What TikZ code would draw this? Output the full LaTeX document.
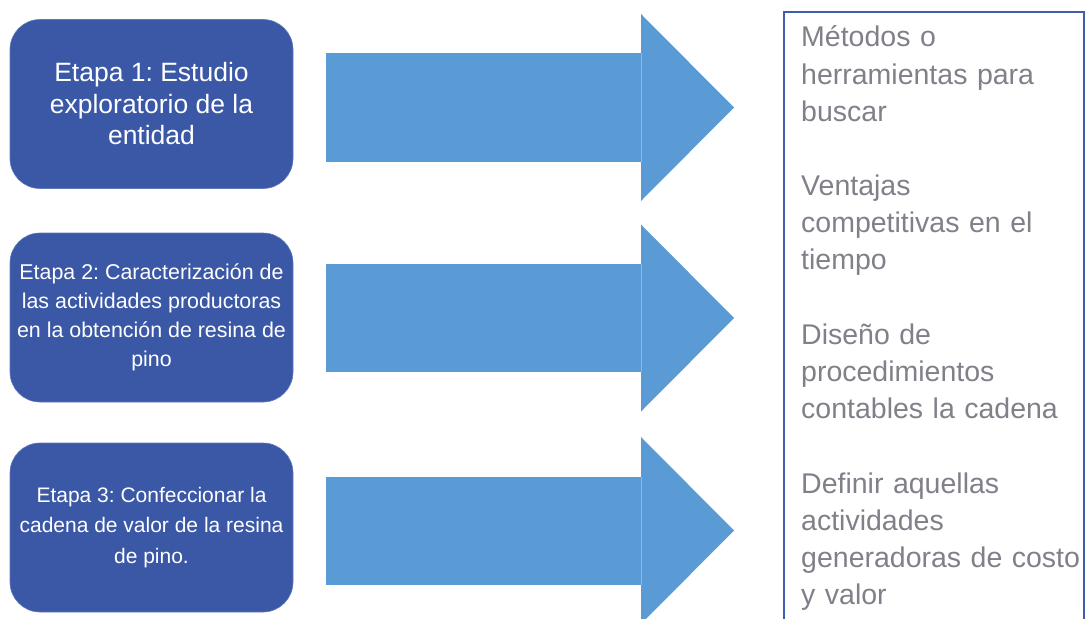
\documentclass[tikz,border=0pt]{standalone}
\usepackage{fontspec}
\setmainfont{Liberation Sans}
\frenchspacing
\definecolor{stagefill}{RGB}{59,88,166}
\definecolor{arrowfill}{RGB}{91,155,213}
\definecolor{framecol}{RGB}{63,93,174}
\definecolor{txtgray}{RGB}{128,128,138}
\tikzset{
  stagebox/.style={fill=stagefill, draw=stagefill!80!white, line width=0.6pt, rounded corners=30pt,
    minimum width=283pt, minimum height=169pt, inner sep=2pt, text=white, align=center},
  bigarrow/.style={fill=arrowfill, draw=none},
  headline/.style={draw=arrowfill!70!white, line width=0.8pt},
  goaltext/.style={anchor=base west, inner sep=0pt, text=txtgray, text width=300pt, align=left,
    font={\fontsize{28.5}{37.2}\selectfont}}
}
\begin{document}
\begin{tikzpicture}[x=1pt, y=-1pt]
\useasboundingbox (0,0) rectangle (1086,618);
\clip (0,0) rectangle (1086,618);
% stage boxes
\node[stagebox, font={\fontsize{26.5}{31.5}\selectfont}] (s1) at (151.5,104)
  {Etapa 1: Estudio\\exploratorio de la\\entidad};
\node[stagebox, font={\fontsize{21.4}{29}\selectfont}] (s2) at (151.5,317.5)
  {Etapa 2: Caracterización de\\las actividades productoras\\en la obtención de resina de\\pino};
\node[stagebox, font={\fontsize{21}{30.5}\selectfont}] (s3) at (151.5,527.5)
  {Etapa 3: Confeccionar la\\cadena de valor de la resina\\de pino.};
% arrows
\foreach \c [count=\i] in {107.5,318,530.5}{
  \fill[bigarrow] (326,\c-54) rectangle (641,\c+54);
  \fill[bigarrow] (641,\c-93.5) -- (734,\c) -- (641,\c+93.5) -- cycle;
  \draw[headline] (641,\c-54) -- (641,\c+54);
}
% goals frame
\draw[framecol, line width=2pt] (784,12) rectangle (1084,650);
\coordinate (g1) at (801,47);
\coordinate (g2) at (801,195);
\coordinate (g3) at (801,344);
\coordinate (g4) at (801,493);
\node[goaltext] (t1) at (g1) {Métodos o\\herramientas para\\buscar};
\node[goaltext] (t2) at (g2) {Ventajas\\competitivas en el\\tiempo};
\node[goaltext] (t3) at (g3) {Diseño de\\procedimientos\\contables la cadena};
\node[goaltext] (t4) at (g4) {Definir aquellas\\actividades\\generadoras de costo\\y valor};
\end{tikzpicture}
\end{document}
